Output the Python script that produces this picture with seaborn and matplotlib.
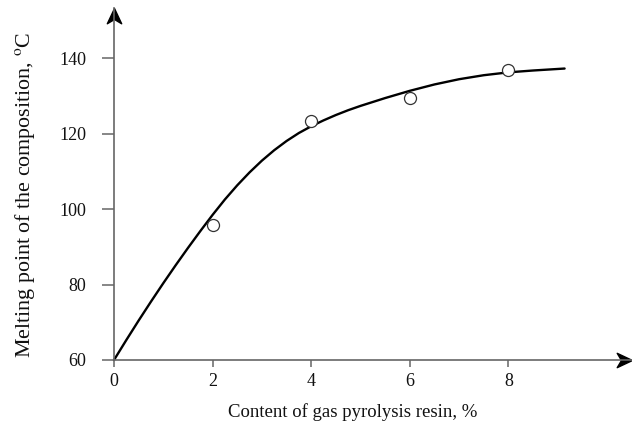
import matplotlib
matplotlib.use("Agg")
import matplotlib.pyplot as plt
from matplotlib.path import Path
import seaborn as sns
import pandas as pd

# Experimental points
resin_pct = [2, 4, 6, 8]
melting_pt = [95.8, 123.5, 129.6, 136.9]

# Fitted curve
curve_x = [0, 0.25, 0.5, 0.75, 1.0, 1.25, 1.5, 1.75, 2.0, 2.25, 2.5, 2.75, 3.0, 3.25, 3.5, 3.75,
           4.0, 4.25, 4.5, 4.75, 5.0, 5.5, 6.0, 6.5, 7.0, 7.5, 8.0, 8.5, 9.14]
curve_y = [60, 65.3, 70.47, 75.49, 80.38, 85.12, 89.72, 94.18, 98.5, 102.59, 106.34, 109.77,
           112.88, 115.65, 118.09, 120.21, 122.0, 123.56, 124.98, 126.26, 127.4, 129.48, 131.4,
           133.09, 134.48, 135.54, 136.3, 136.79, 137.31]

xticks = [0, 2, 4, 6, 8]
yticks = [60, 80, 100, 120, 140]

sns.set_style("ticks")
plt.rcParams['font.family'] = ['Liberation Serif', 'DejaVu Serif']
plt.rcParams['mathtext.fontset'] = 'stix'

W, H = 632, 424
fig = plt.figure(figsize=(W / 100, H / 100), dpi=100)
left, bottom, top_gap = 114, 64, 8
aw, ah = W - left, H - bottom - top_gap
ax = fig.add_axes([left / W, bottom / H, aw / W, ah / H])

xpx = 49.3
ypx = 3.77
ax.set_xlim(0, aw / xpx)
ax.set_ylim(60, 60 + ah / ypx)

df_c = pd.DataFrame({"x": curve_x, "y": curve_y})
sns.lineplot(data=df_c, x="x", y="y", ax=ax, color="black", lw=1.7, clip_on=False)
df_p = pd.DataFrame({"x": resin_pct, "y": melting_pt})
sns.scatterplot(data=df_p, x="x", y="y", ax=ax, s=75, facecolor="white",
                edgecolor="#333333", linewidth=0.9, zorder=5, clip_on=False)

spine_col = "#666666"
for s in ["top", "right"]:
    ax.spines[s].set_visible(False)
for s in ["left", "bottom"]:
    ax.spines[s].set_color(spine_col)
    ax.spines[s].set_linewidth(1.2)

ax.set_xticks(xticks)
ax.set_yticks(yticks)
ax.tick_params(axis="y", direction="out", length=9, width=1.1, color=spine_col,
               labelsize=13, pad=11, labelcolor="#111111")
ax.tick_params(axis="x", direction="out", length=5, width=1.1, color=spine_col,
               labelsize=13, pad=4, labelcolor="#111111")

# arrow heads (stealth-like)
up = Path([(0, 0), (-0.47, -1), (0, -0.72), (0.47, -1), (0, 0)],
          [Path.MOVETO, Path.LINETO, Path.LINETO, Path.LINETO, Path.CLOSEPOLY])
right = Path([(0, 0), (-1, 0.47), (-0.72, 0), (-1, -0.47), (0, 0)],
             [Path.MOVETO, Path.LINETO, Path.LINETO, Path.LINETO, Path.CLOSEPOLY])
ax.plot(0, 1, marker=up, color="black", markersize=22, transform=ax.transAxes, clip_on=False)
ax.plot(1, 0, marker=right, color="black", markersize=22, transform=ax.transAxes, clip_on=False)

ax.set_xlabel("Content of gas pyrolysis resin, %", fontsize=13.5, color="#111111")
ax.xaxis.set_label_coords((352.5 - left) / aw, -52 / ah)
ax.xaxis.label.set_va("center")
ax.set_ylabel("Melting point of the composition, $^{\\mathrm{o}}$C", fontsize=15.8,
              color="#111111", va="center")
ax.yaxis.set_label_coords((25 - left) / aw, (360 - 195) / ah)

fig.savefig("out.png", dpi=100)
